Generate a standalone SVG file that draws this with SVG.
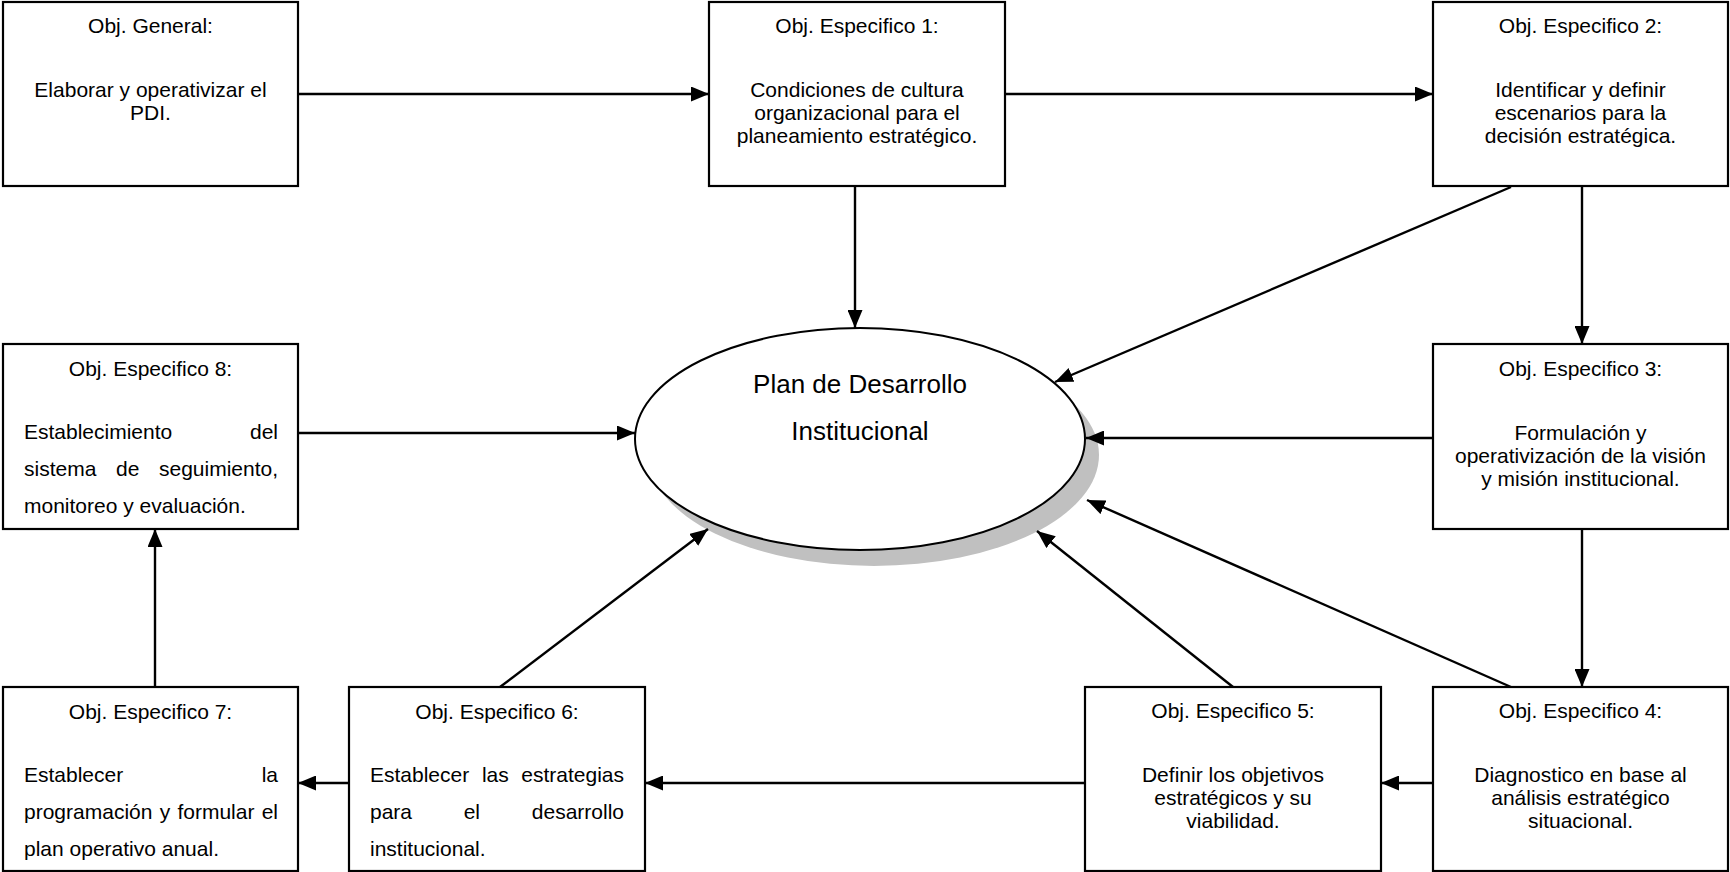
<svg xmlns="http://www.w3.org/2000/svg" width="1730" height="872" viewBox="0 0 1730 872">
  <style>
    .box { fill: #ffffff; stroke: #000000; stroke-width: 2.2; }
    .t { font-family: "Liberation Sans", Arial, sans-serif; font-size: 21px; fill: #000000; }
    .c { text-anchor: middle; }
    .big { font-family: "Liberation Sans", Arial, sans-serif; font-size: 26px; fill: #000000; text-anchor: middle; }
    .link { fill: none; stroke: #000000; stroke-width: 2.4; marker-end: url(#arrow); }
  </style>
  <defs>
    <marker id="arrow" markerUnits="userSpaceOnUse" markerWidth="19" markerHeight="15" refX="18" refY="7.5" orient="auto">
      <path d="M0,0 L18,7.5 L0,15 z" fill="#000000"/>
    </marker>
  </defs>

  <rect width="1730" height="872" fill="#ffffff"/>

  <!-- central plan with drop shadow -->
  <g id="plan">
    <ellipse cx="874" cy="455" rx="225" ry="111" fill="#c0c0c0"/>
    <ellipse cx="860" cy="439" rx="225" ry="111" fill="#ffffff" stroke="#000000" stroke-width="2"/>
    <text class="big" x="860" y="393">Plan de Desarrollo</text>
    <text class="big" x="860" y="440">Institucional</text>
  </g>

  <g id="obj-general">
    <rect class="box" x="3" y="2" width="295" height="184"/>
    <text class="t c" x="150.5" y="33">Obj. General:</text>
    <text class="t c" x="150.5" y="97">Elaborar y operativizar el</text>
    <text class="t c" x="150.5" y="120">PDI.</text>
  </g>

  <g id="obj-especifico-1">
    <rect class="box" x="709" y="2" width="296" height="184"/>
    <text class="t c" x="857" y="33">Obj. Especifico 1:</text>
    <text class="t c" x="857" y="97">Condiciones de cultura</text>
    <text class="t c" x="857" y="120">organizacional para el</text>
    <text class="t c" x="857" y="143">planeamiento estratégico.</text>
  </g>

  <g id="obj-especifico-2">
    <rect class="box" x="1433" y="2" width="295" height="184"/>
    <text class="t c" x="1580.5" y="33">Obj. Especifico 2:</text>
    <text class="t c" x="1580.5" y="97">Identificar y definir</text>
    <text class="t c" x="1580.5" y="120">escenarios para la</text>
    <text class="t c" x="1580.5" y="143">decisión estratégica.</text>
  </g>

  <g id="obj-especifico-3">
    <rect class="box" x="1433" y="344" width="295" height="185"/>
    <text class="t c" x="1580.5" y="376">Obj. Especifico 3:</text>
    <text class="t c" x="1580.5" y="440">Formulación y</text>
    <text class="t c" x="1580.5" y="463">operativización de la visión</text>
    <text class="t c" x="1580.5" y="486">y misión institucional.</text>
  </g>

  <g id="obj-especifico-4">
    <rect class="box" x="1433" y="687" width="295" height="184"/>
    <text class="t c" x="1580.5" y="718">Obj. Especifico 4:</text>
    <text class="t c" x="1580.5" y="782">Diagnostico en base al</text>
    <text class="t c" x="1580.5" y="805">análisis estratégico</text>
    <text class="t c" x="1580.5" y="828">situacional.</text>
  </g>

  <g id="obj-especifico-5">
    <rect class="box" x="1085" y="687" width="296" height="184"/>
    <text class="t c" x="1233" y="718">Obj. Especifico 5:</text>
    <text class="t c" x="1233" y="782">Definir los objetivos</text>
    <text class="t c" x="1233" y="805">estratégicos y su</text>
    <text class="t c" x="1233" y="828">viabilidad.</text>
  </g>

  <!-- justified paragraphs: words placed individually -->
  <g id="obj-especifico-6">
    <rect class="box" x="349" y="687" width="296" height="184"/>
    <text class="t c" x="497" y="719">Obj. Especifico 6:</text>
    <text class="t" y="782"><tspan x="370">Establecer</tspan><tspan x="481.9">las</tspan><tspan x="521.3">estrategias</tspan></text>
    <text class="t" y="819"><tspan x="370">para</tspan><tspan x="463.7">el</tspan><tspan x="531.8">desarrollo</tspan></text>
    <text class="t" x="370" y="856">institucional.</text>
  </g>

  <g id="obj-especifico-7">
    <rect class="box" x="3" y="687" width="295" height="184"/>
    <text class="t c" x="150.5" y="719">Obj. Especifico 7:</text>
    <text class="t" y="782"><tspan x="24">Establecer</tspan><tspan x="261.7">la</tspan></text>
    <text class="t" y="819"><tspan x="24">programación</tspan><tspan x="159.7">y</tspan><tspan x="177.4">formular</tspan><tspan x="261.7">el</tspan></text>
    <text class="t" x="24" y="856">plan operativo anual.</text>
  </g>

  <g id="obj-especifico-8">
    <rect class="box" x="3" y="344" width="295" height="185"/>
    <text class="t c" x="150.5" y="376">Obj. Especifico 8:</text>
    <text class="t" y="439"><tspan x="24">Establecimiento</tspan><tspan x="250">del</tspan></text>
    <text class="t" y="476"><tspan x="24">sistema</tspan><tspan x="116">de</tspan><tspan x="159">seguimiento,</tspan></text>
    <text class="t" x="24" y="513">monitoreo y evaluación.</text>
  </g>

  <g id="connectors">
    <path class="link" d="M298,94 H709"/>
    <path class="link" d="M1005,94 H1433"/>
    <path class="link" d="M855,186 V328"/>
    <path class="link" d="M1511,187 L1055,382"/>
    <path class="link" d="M1582,186 V344"/>
    <path class="link" d="M1433,438 H1086"/>
    <path class="link" d="M1582,529 V687"/>
    <path class="link" d="M1511,687 L1087,500"/>
    <path class="link" d="M1433,783 H1381"/>
    <path class="link" d="M1233,687 L1037,531"/>
    <path class="link" d="M1085,783 H645"/>
    <path class="link" d="M500,687 L708,529"/>
    <path class="link" d="M349,783 H298"/>
    <path class="link" d="M155,687 V529"/>
    <path class="link" d="M298,433 H635"/>
  </g>
</svg>
